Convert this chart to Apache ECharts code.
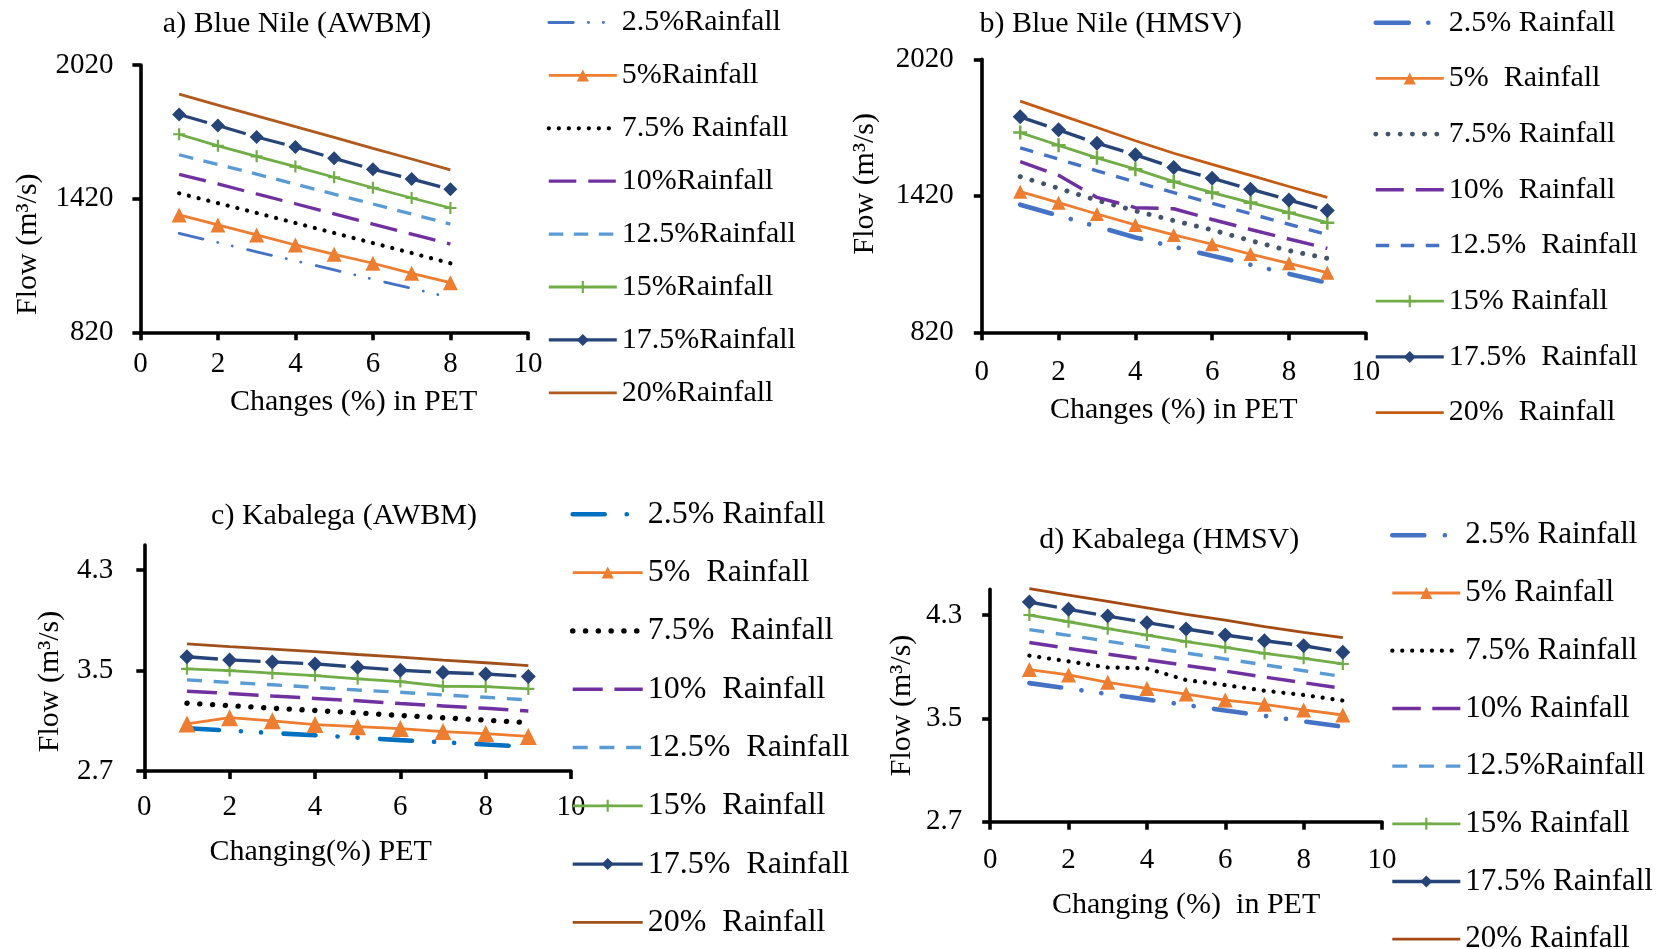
<!DOCTYPE html>
<html><head><meta charset="utf-8">
<script src="https://cdn.jsdelivr.net/npm/echarts@6/dist/echarts.min.js"></script>
<style>html,body{margin:0;padding:0;background:#fff}#c{width:1674px;height:949px}</style>
</head><body><div id="c"></div>
<script>
const FONT = '"Liberation Serif","Times New Roman",serif';

// ---- x values: change (%) in PET ----
const petA = [1, 2, 3, 4, 5, 6, 7, 8];
const petB = [1, 2, 3, 4, 5, 6, 7, 8, 9];
const petC = [1, 2, 3, 4, 5, 6, 7, 8, 9];
const petD = [1, 2, 3, 4, 5, 6, 7, 8, 9];

// ---- tick labels ----
const xTicks = [0, 2, 4, 6, 8, 10];
const yTicksBlueNile = [820, 1420, 2020];
const yTicksKabalega = [2.7, 3.5, 4.3];

// ---- legend labels ----
const namesA = ['2.5%Rainfall', '5%Rainfall', '7.5% Rainfall', '10%Rainfall', '12.5%Rainfall', '15%Rainfall', '17.5%Rainfall', '20%Rainfall'];
const namesB = ['2.5% Rainfall', '5%  Rainfall', '7.5% Rainfall', '10%  Rainfall', '12.5%  Rainfall', '15% Rainfall', '17.5%  Rainfall', '20%  Rainfall'];
const namesC = ['2.5% Rainfall', '5%  Rainfall', '7.5%  Rainfall', '10%  Rainfall', '12.5%  Rainfall', '15%  Rainfall', '17.5%  Rainfall', '20%  Rainfall'];
const namesD = ['2.5% Rainfall', '5% Rainfall', '7.5% Rainfall', '10% Rainfall', '12.5%Rainfall', '15% Rainfall', '17.5% Rainfall', '20% Rainfall'];

// ---- a) Blue Nile (AWBM), flow m3/s ----
const bnAwbm25  = [1264, 1223, 1181, 1141, 1100, 1058, 1017, 976];
const bnAwbm5   = [1347, 1302, 1257, 1212, 1170, 1130, 1085, 1043];
const bnAwbm75  = [1444, 1400, 1356, 1311, 1266, 1221, 1176, 1130];
const bnAwbm10  = [1529, 1486, 1441, 1397, 1352, 1306, 1261, 1216];
const bnAwbm125 = [1617, 1573, 1530, 1485, 1440, 1396, 1351, 1306];
const bnAwbm15  = [1709, 1657, 1610, 1564, 1516, 1469, 1423, 1378];
const bnAwbm175 = [1798, 1748, 1697, 1652, 1601, 1552, 1508, 1462];
const bnAwbm20  = [1889, 1840, 1792, 1743, 1695, 1646, 1598, 1549];

// ---- b) Blue Nile (HMSV) ----
const bnHmsv25  = [1381, 1333, 1285, 1237, 1196, 1156, 1117, 1077, 1038];
const bnHmsv5   = [1438, 1390, 1340, 1292, 1248, 1207, 1164, 1123, 1082];
const bnHmsv75  = [1504, 1453, 1400, 1354, 1311, 1270, 1223, 1179, 1145];
const bnHmsv10  = [1570, 1510, 1413, 1368, 1363, 1316, 1272, 1230, 1189];
const bnHmsv125 = [1631, 1581, 1530, 1481, 1434, 1387, 1341, 1295, 1250];
const bnHmsv15  = [1698, 1642, 1587, 1537, 1482, 1434, 1390, 1346, 1302];
const bnHmsv175 = [1767, 1710, 1651, 1600, 1544, 1497, 1449, 1402, 1355];
const bnHmsv20  = [1836, 1778, 1720, 1662, 1607, 1558, 1510, 1461, 1413];

// ---- c) Kabalega (AWBM) ----
const kbAwbm25  = [3.040, 3.022, 3.002, 2.985, 2.966, 2.946, 2.929, 2.911, 2.893];
const kbAwbm5   = [3.075, 3.125, 3.100, 3.070, 3.053, 3.038, 3.014, 2.998, 2.975];
const kbAwbm75  = [3.240, 3.221, 3.200, 3.182, 3.163, 3.142, 3.124, 3.105, 3.085];
const kbAwbm10  = [3.336, 3.318, 3.297, 3.278, 3.259, 3.237, 3.218, 3.199, 3.178];
const kbAwbm125 = [3.426, 3.405, 3.387, 3.366, 3.345, 3.327, 3.306, 3.287, 3.266];
const kbAwbm15  = [3.514, 3.500, 3.479, 3.460, 3.434, 3.412, 3.375, 3.372, 3.354];
const kbAwbm175 = [3.610, 3.585, 3.569, 3.553, 3.527, 3.503, 3.484, 3.473, 3.452];
const kbAwbm20  = [3.712, 3.690, 3.671, 3.650, 3.628, 3.607, 3.583, 3.562, 3.540];

// ---- d) Kabalega (HMSV) ----
const kbHmsv25  = [3.773, 3.731, 3.688, 3.646, 3.603, 3.561, 3.519, 3.477, 3.435];
const kbHmsv5   = [3.878, 3.836, 3.779, 3.732, 3.688, 3.642, 3.609, 3.565, 3.526];
const kbHmsv75  = [3.986, 3.941, 3.894, 3.887, 3.797, 3.758, 3.714, 3.681, 3.638];
const kbHmsv10  = [4.088, 4.042, 3.998, 3.954, 3.909, 3.866, 3.820, 3.776, 3.732];
const kbHmsv125 = [4.187, 4.143, 4.097, 4.052, 4.006, 3.960, 3.914, 3.869, 3.823];
const kbHmsv15  = [4.300, 4.248, 4.194, 4.145, 4.094, 4.050, 4.003, 3.965, 3.921];
const kbHmsv175 = [4.401, 4.344, 4.292, 4.241, 4.192, 4.145, 4.101, 4.062, 4.011];
const kbHmsv20  = [4.504, 4.455, 4.405, 4.355, 4.305, 4.260, 4.210, 4.165, 4.125];

// ---- styles ----
const PLUS = 'path://M4.1,0H5.9V4.1H10V5.9H5.9V10H4.1V5.9H0V4.1H4.1Z';
const stylesA = [
  { color: '#4472C4', width: 2.8, type: [24.5, 15.1, 0.1, 14.8, 0.1, 15.8], cap: 'round' },
  { color: '#ED7D31', width: 2.8, symbol: 'triangle', size: 15 },
  { color: '#000000', width: 4.2, type: [0.1, 9.9], cap: 'round' },
  { color: '#7030A0', width: 3.3, type: [27.5, 12] },
  { color: '#5B9BD5', width: 3.3, type: [14.5, 10.5] },
  { color: '#70AD47', width: 2.8, symbol: PLUS, size: 12 },
  { color: '#264478', width: 3.2, type: [29, 11.3], symbol: 'diamond', size: 14, legendSolid: true },
  { color: '#B05A1E', width: 2.8 }
];
const stylesB = [
  { color: '#4472C4', width: 4.6, type: [33, 19.5, 0.1, 19, 0.1, 21], cap: 'round' },
  { color: '#ED7D31', width: 2.8, symbol: 'triangle', size: 14 },
  { color: '#44546A', width: 4.9, type: [0.1, 12.1], cap: 'round' },
  { color: '#7030A0', width: 3.5, type: [28, 12] },
  { color: '#4472C4', width: 3.4, type: [13.5, 11.5] },
  { color: '#70AD47', width: 2.8, symbol: PLUS, size: 14 },
  { color: '#264478', width: 3.4, type: [28, 12.4], symbol: 'diamond', size: 15, legendSolid: true },
  { color: '#C55A11', width: 2.8 }
];
const stylesC = [
  { color: '#0070C0', width: 4.6, type: [32, 22, 0.1, 20, 0.1, 22.5], cap: 'round' },
  { color: '#ED7D31', width: 2.8, symbol: 'triangle', size: 17 },
  { color: '#000000', width: 5.4, type: [0.1, 12.7], cap: 'round' },
  { color: '#7030A0', width: 3.5, type: [30, 11.7] },
  { color: '#5B9BD5', width: 3.4, type: [15, 11.7] },
  { color: '#70AD47', width: 2.8, symbol: PLUS, size: 12 },
  { color: '#264478', width: 3.4, type: [31, 11.7], symbol: 'diamond', size: 15, legendSolid: true },
  { color: '#A0501A', width: 2.8 }
];
const stylesD = [
  { color: '#4472C4', width: 4.6, type: [32, 20.5, 0.1, 20, 0.1, 20.5], cap: 'round' },
  { color: '#ED7D31', width: 2.8, symbol: 'triangle', size: 15 },
  { color: '#000000', width: 4.2, type: [0.1, 9.8], cap: 'round' },
  { color: '#7030A0', width: 3.5, type: [28.5, 11.5] },
  { color: '#5B9BD5', width: 3.4, type: [15, 11.7] },
  { color: '#70AD47', width: 2.8, symbol: PLUS, size: 12 },
  { color: '#264478', width: 3.4, type: [28, 11.7], symbol: 'diamond', size: 15, legendSolid: true },
  { color: '#A34A12', width: 2.8 }
];

const panels = [
  { key: 'a', x: petA, vals: [bnAwbm25, bnAwbm5, bnAwbm75, bnAwbm10, bnAwbm125, bnAwbm15, bnAwbm175, bnAwbm20],
    names: namesA, styles: stylesA, yTicks: yTicksBlueNile, yMin: 820, yMax: 2020,
    title: 'a) Blue Nile (AWBM)', tx: 297, ty: 24,
    grid: { left: 140.4, top: 65, width: 387.5, height: 267.3 },
    xName: 'Changes (%) in PET', xNameGap: 55, xNamePad: [0, 0, 0, 39], xLabelMargin: 18,
    yNameGap: 97, yNamePad: [0, 91, 0, 0], yLabelMargin: 27,
    legend: { left: 546.7, top: 7.5, gap: 22.9, w: 68, fs: 30, lh: 30 } },
  { key: 'b', x: petB, vals: [bnHmsv25, bnHmsv5, bnHmsv75, bnHmsv10, bnHmsv125, bnHmsv15, bnHmsv175, bnHmsv20],
    names: namesB, styles: stylesB, yTicks: yTicksBlueNile, yMin: 820, yMax: 2020,
    title: 'b) Blue Nile (HMSV)', tx: 1110.7, ty: 24,
    grid: { left: 981.8, top: 59.3, width: 383.9, height: 273 },
    xName: 'Changes (%) in PET', xNameGap: 63, xNamePad: [0, 0, 0, 0], xLabelMargin: 26,
    yNameGap: 102, yNamePad: [0, 0, 0, 24], yLabelMargin: 28,
    legend: { left: 1373.3, top: 7.7, gap: 25.7, w: 68, fs: 30, lh: 30 } },
  { key: 'c', x: petC, vals: [kbAwbm25, kbAwbm5, kbAwbm75, kbAwbm10, kbAwbm125, kbAwbm15, kbAwbm175, kbAwbm20],
    names: namesC, styles: stylesC, yTicks: yTicksKabalega, yMin: 2.7, yMax: 4.5,
    title: 'c) Kabalega (AWBM)', tx: 344, ty: 516,
    grid: { left: 144.3, top: 545, width: 426.7, height: 226 },
    xName: 'Changing(%) PET', xNameGap: 66, xNamePad: [0, 74, 0, 0], xLabelMargin: 22,
    yNameGap: 79, yNamePad: [0, 47, 0, 0], yLabelMargin: 31,
    legend: { left: 570, top: 498.3, gap: 26.3, w: 70, fs: 32, lh: 32 } },
  { key: 'd', x: petD, vals: [kbHmsv25, kbHmsv5, kbHmsv75, kbHmsv10, kbHmsv125, kbHmsv15, kbHmsv175, kbHmsv20],
    names: namesD, styles: stylesD, yTicks: yTicksKabalega, yMin: 2.7, yMax: 4.5,
    title: 'd) Kabalega (HMSV)', tx: 1169.3, ty: 540,
    grid: { left: 990.2, top: 589.2, width: 391.8, height: 232.5 },
    xName: 'Changing (%)  in PET', xNameGap: 68, xNamePad: [0, 0, 0, 0], xLabelMargin: 24,
    yNameGap: 73, yNamePad: [0, 0, 0, 0], yLabelMargin: 28,
    legend: { left: 1390, top: 519.8, gap: 26.7, w: 68, fs: 31, lh: 31 } }
];

const option = { animation: false, backgroundColor: '#ffffff',
  title: [], grid: [], xAxis: [], yAxis: [], legend: [], series: [] };

const axisLineStyle = { color: '#000', width: 3.6 };
const plainNum = (v) => String(v);

panels.forEach((p, pi) => {
  option.title.push({ text: p.title, left: p.tx, top: p.ty, textAlign: 'center', textVerticalAlign: 'middle', padding: 0,
    textStyle: { fontFamily: FONT, fontSize: 30, fontWeight: 'normal', color: '#000' } });
  option.grid.push(Object.assign({ containLabel: false, outerBoundsMode: 'none', show: false }, p.grid));
  option.xAxis.push({ type: 'value', gridIndex: pi, min: 0, max: 10, interval: 2,
    axisLine: { show: true, onZero: false, lineStyle: axisLineStyle },
    axisTick: { show: true, inside: false, length: 8, lineStyle: axisLineStyle, customValues: xTicks },
    axisLabel: { show: true, margin: p.xLabelMargin, fontFamily: FONT, fontSize: 29, color: '#000', customValues: xTicks, formatter: plainNum },
    splitLine: { show: false },
    name: p.xName, nameLocation: 'middle', nameGap: p.xNameGap, nameMoveOverlap: false,
    nameTextStyle: { fontFamily: FONT, fontSize: 30, color: '#000', padding: p.xNamePad } });
  option.yAxis.push({ type: 'value', gridIndex: pi, min: p.yMin, max: p.yMax,
    axisLine: { show: true, onZero: false, lineStyle: axisLineStyle },
    axisTick: { show: true, inside: false, length: 8, lineStyle: axisLineStyle, customValues: p.yTicks },
    axisLabel: { show: true, margin: p.yLabelMargin, fontFamily: FONT, fontSize: 29, color: '#000', customValues: p.yTicks, formatter: plainNum },
    splitLine: { show: false },
    name: 'Flow (m³/s)', nameLocation: 'middle', nameRotate: 90, nameGap: p.yNameGap, nameMoveOverlap: false,
    nameTextStyle: { fontFamily: FONT, fontSize: 30, color: '#000', padding: p.yNamePad } });

  const legendData = [];
  p.names.forEach((nm, si) => {
    const st = p.styles[si];
    const sname = p.key + '|' + nm;
    option.series.push({
      type: 'line', name: sname, xAxisIndex: pi, yAxisIndex: pi,
      data: p.x.map((xv, i) => [xv, p.vals[si][i]]),
      symbol: st.symbol || 'none', symbolSize: st.size || 0, showSymbol: !!st.symbol,
      itemStyle: { color: st.color, borderWidth: 0 },
      lineStyle: { color: st.color, width: st.width, type: st.type || 'solid', cap: st.cap || 'butt' },
      emphasis: { disabled: true }, silent: true, smooth: false, clip: false
    });
    legendData.push({
      name: sname,
      lineStyle: { color: st.color, width: st.width, type: st.legendSolid ? 'solid' : (st.type || 'solid'), cap: st.cap || 'butt' },
      itemStyle: st.symbol ? { color: st.color, borderWidth: 0 } : { color: st.color, opacity: 0, borderWidth: 0 }
    });
  });
  const L = p.legend;
  option.legend.push({
    type: 'plain', orient: 'vertical', left: L.left, top: L.top, padding: 0,
    width: 300, height: 8 * L.lh + 7 * L.gap + 30,
    itemGap: L.gap, itemWidth: L.w, itemHeight: 15, selectedMode: false,
    data: legendData,
    formatter: (n) => n.split('|')[1],
    textStyle: { fontFamily: FONT, fontSize: L.fs, color: '#000', lineHeight: L.lh }
  });
});

const chart = echarts.init(document.getElementById('c'), null, { renderer: 'canvas', width: 1674, height: 949 });
chart.setOption(option);
</script>
</body></html>
